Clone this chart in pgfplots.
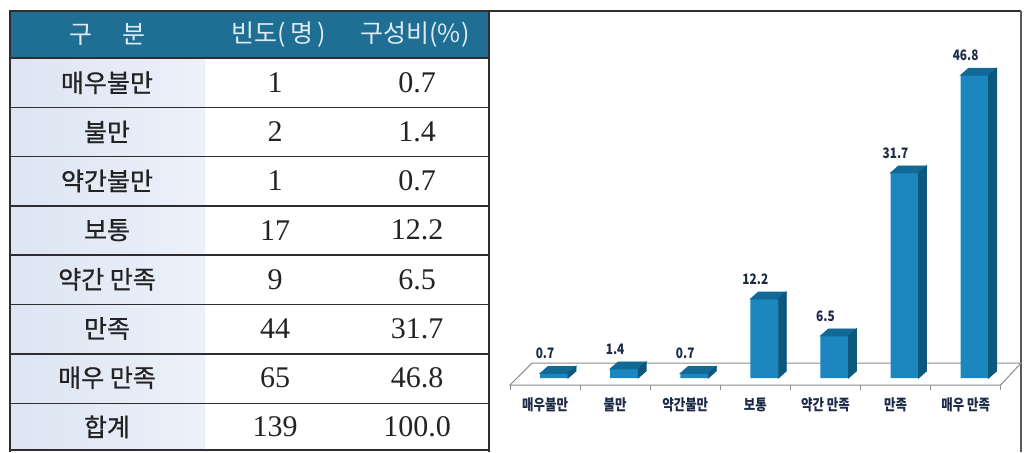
\documentclass[border=0pt]{standalone}
\usepackage{pgfplots}
\pgfplotsset{compat=1.18}
\usepackage{pgfplotstable}
\usepackage{fontspec}
\setmainfont{Liberation Serif}
\newfontfamily\kr{Noto Sans CJK KR}
\newfontfamily\krm{Noto Sans CJK KR}[FakeBold=0.7]
\newfontfamily\krc{Noto Sans CJK KR}[FakeStretch=0.82]
\newfontfamily\numf{Liberation Serif}

\definecolor{hdr}{RGB}{31,110,148}
\definecolor{hdrtext}{RGB}{222,234,242}
\definecolor{labA}{RGB}{221,229,243}
\definecolor{labB}{RGB}{236,241,249}
\definecolor{tbl}{RGB}{45,45,50}
\definecolor{txt}{RGB}{35,35,35}
\definecolor{frontc}{RGB}{27,135,190}
\definecolor{topc}{RGB}{18,105,150}
\definecolor{sidec}{RGB}{12,88,125}
\definecolor{navy}{RGB}{28,42,72}
\definecolor{floorc}{RGB}{140,140,140}

\pgfdeclareplotmark{nothing}{}

\pgfplotstableread{
x v
0 0.7
1 1.4
2 0.7
3 12.2
4 6.5
5 31.7
6 46.8
}\bardata

\begin{document}
\begin{tikzpicture}
\path[use as bounding box] (0,0) rectangle (512.5pt,-226pt);
\fill[white] (0,0) rectangle (512.5pt,-226pt);
\begin{scope}[x=0.5pt,y=-0.5pt]
  \fill[hdr] (11,11) rectangle (489,58);
  \shade[left color=labA,right color=labB] (11,58) rectangle (205,450);
  \foreach \yy in {58,107.5,156.5,206,255,304.5,354,403.5,450}
    \draw[line width=0.8pt, tbl] (11,\yy) -- (489,\yy);
  \draw[line width=1.2pt, tbl] (10,452) -- (10,11) -- (1021,11);
  \draw[line width=1pt, tbl] (489,11) -- (489,452);
  \draw[line width=0.6pt, black!65] (1021,11) -- (1021,452);
  % header
  \node[text=hdrtext, font=\kr\fontsize{12.5}{14}\selectfont] at (107,34.5) {구\hspace{15pt}분};
  \node[text=hdrtext, font=\kr\fontsize{12.5}{14}\selectfont] at (279,34.5) {빈도(\,명\,)};
  \node[text=hdrtext, font=\kr\fontsize{12.5}{14}\selectfont] at (415,34.5) {구성비(\%)};
  \foreach \lab/\f/\p [count=\k] in {매우불만/1/0.7, 불만/2/1.4, 약간불만/1/0.7, 보통/17/12.2, 약간 만족/9/6.5, 만족/44/31.7, 매우 만족/65/46.8, 합계/139/100.0}{
    \pgfmathsetmacro\yy{33.6+49.15*\k}
    \node[text=txt, font=\krm\fontsize{12.5}{14}\selectfont] at (107,\yy) {\lab};
    \node[text=txt, font=\numf\fontsize{15}{17}\selectfont] at (275,\yy) {\f};
    \node[text=txt, font=\numf\fontsize{15}{17}\selectfont] at (417,\yy) {\p};
  }
\end{scope}

\begin{axis}[
  at={(255pt,-192.5pt)}, anchor=south west,
  scale only axis, width=245.35pt, height=165.25pt,
  xmin=-0.5, xmax=6.5, ymin=-1.082, ymax=50,
  clip=false,
  axis x line=bottom, axis y line=none,
  x axis line style={draw=none},
  ytick=\empty,
  xtick={0,1,2,3,4,5,6},
  xticklabels={매우불만,불만,약간불만,보통,약간 만족,만족,매우 만족},
  major tick length=0pt,
  xticklabel style={font=\krc\bfseries\fontsize{7.6}{9}\selectfont, text=navy, anchor=center, yshift=-10pt},
  extra x ticks={-0.5,0.5,1.5,2.5,3.5,4.5,5.5,6.5},
  extra x tick labels={},
  extra x tick style={major tick length=2.5pt, tick align=outside, tick style={draw=floorc, line width=0.5pt}},
  /pgf/number format/assume math mode=true,
]
% floor
\addplot[draw=floorc, line width=0.5pt, fill=white] coordinates {(-0.5,-1.082) (-0.185,2.318) (6.79,2.318) (6.5,-1.082)} --cycle;
% front faces
\addplot[ybar, bar width=14pt, bar shift=4.5pt, fill=frontc, draw=none,
  nodes near coords={\pgfmathprintnumber[fixed,precision=1,zerofill]{\pgfplotspointmeta}},
  every node near coord/.append style={font=\krc\bfseries\fontsize{7.2}{8}\selectfont, text=navy, anchor=south, inner sep=0pt, yshift=7pt}]
  table[x=x,y=v]{\bardata};
% top and side faces
\addplot[scatter, only marks, mark=nothing,
  visualization depends on={\thisrow{v} \as \val},
  scatter/@pre marker code/.code={%
    \pgfmathsetmacro\hh{\val*3.235}%
    \pgfmathsetmacro\hb{3.5-\hh}%
    \fill[topc] (-2.5pt,0pt) -- (1.5pt,3.5pt) -- (15.5pt,3.5pt) -- (11.5pt,0pt) -- cycle;
    \fill[sidec] (11.5pt,0pt) -- (15.5pt,3.5pt) -- (15.5pt,\hb pt) -- (11.5pt,-\hh pt) -- cycle;
  },
  scatter/@post marker code/.code={}]
  table[x=x,y=v]{\bardata};
\end{axis}
\end{tikzpicture}
\end{document}
